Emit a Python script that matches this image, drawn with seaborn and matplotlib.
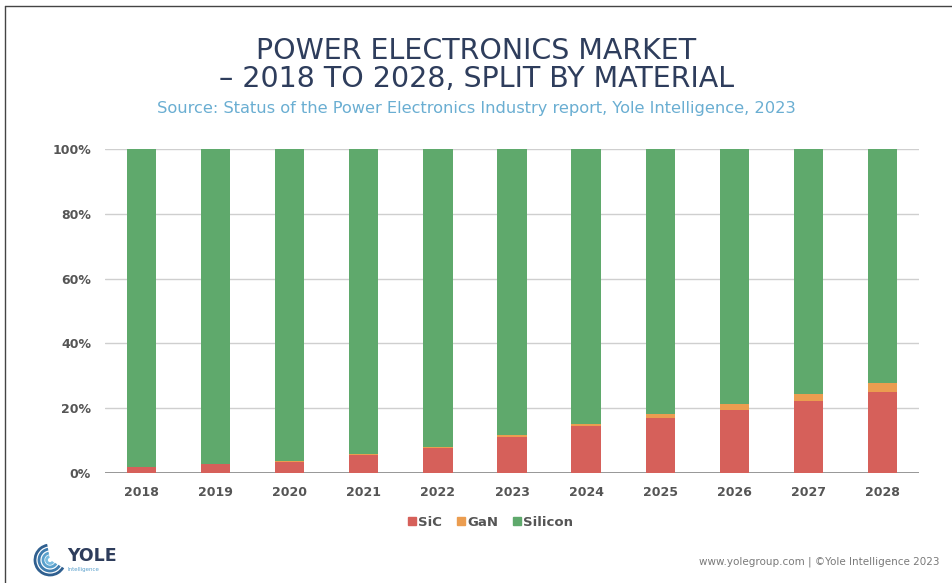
import matplotlib
matplotlib.use("Agg")
import matplotlib.pyplot as plt
from matplotlib.lines import Line2D
from matplotlib.patches import Arc
import pandas as pd
import seaborn as sns

# Market share by material (% of total), 2018-2028
years = ["2018", "2019", "2020", "2021", "2022", "2023", "2024", "2025", "2026", "2027", "2028"]
sic = [1.9, 2.7, 3.4, 5.6, 7.8, 11.1, 14.4, 17.1, 19.4, 22.2, 25.0]
gan = [0.1, 0.1, 0.2, 0.2, 0.3, 0.5, 0.6, 1.0, 1.8, 2.1, 2.9]
silicon = [round(100 - s - g, 1) for s, g in zip(sic, gan)]

y_ticks = [0, 20, 40, 60, 80, 100]
y_tick_labels = ["0%", "20%", "40%", "60%", "80%", "100%"]

COL_SIC = "#d6605a"
COL_GAN = "#eb9d50"
COL_SI = "#5fa96c"
TXT = "#555555"
NAVY = "#2e3d5c"
SUB = "#6aaed2"

sns.set_theme(style="white")
plt.rcParams["font.family"] = ["DejaVu Sans"]

df = pd.DataFrame({"year": years, "SiC": sic, "GaN": gan, "Silicon": silicon})
df["top_gan"] = df["SiC"] + df["GaN"]
df["top_si"] = df["top_gan"] + df["Silicon"]

fig = plt.figure(figsize=(9.53, 5.83), dpi=100)
ax = fig.add_axes([105 / 953, 1 - 473 / 583, 814 / 953, 324 / 583])

# Gridlines behind bars
for t in y_ticks:
    ax.axhline(t, color="#8f8f8f" if t == 0 else "#cfcfcf", lw=1.3 if t == 0 else 1.0, zorder=0)

# Stacked bars: draw cumulative tops, tallest first
for col, color in [("top_si", COL_SI), ("top_gan", COL_GAN), ("SiC", COL_SIC)]:
    sns.barplot(data=df, x="year", y=col, color=color, width=0.395,
                saturation=1, ax=ax, zorder=2, edgecolor="none")

ax.set_xlim(-0.49, 10.49)
ax.set_ylim(0, 100)
ax.set_yticks(y_ticks)
ax.set_yticklabels(y_tick_labels)
ax.set_xlabel("")
ax.set_ylabel("")
for s in ax.spines.values():
    s.set_visible(False)
ax.tick_params(axis="both", length=0, labelsize=9, labelcolor=TXT)
ax.tick_params(axis="y", pad=10)
ax.tick_params(axis="x", pad=9)
for lab in ax.get_xticklabels() + ax.get_yticklabels():
    lab.set_fontweight("bold")

# Titles
fig.text(0.5, 1 - 51 / 583, "POWER ELECTRONICS MARKET", ha="center", va="center",
         fontsize=20.5, color=NAVY)
fig.text(0.5, 1 - 79 / 583, "– 2018 TO 2028, SPLIT BY MATERIAL", ha="center", va="center",
         fontsize=20.5, color=NAVY)
fig.text(0.5, 1 - 108 / 583,
         "Source: Status of the Power Electronics Industry report, Yole Intelligence, 2023",
         ha="center", va="center", fontsize=11.7, color=SUB)

# Legend
handles = [Line2D([], [], marker="s", ls="none", markersize=6, color=c, label=l)
           for c, l in [(COL_SIC, "SiC"), (COL_GAN, "GaN"), (COL_SI, "Silicon")]]
leg = fig.legend(handles=handles, loc="center", bbox_to_anchor=(490 / 953, 1 - 522 / 583),
                 ncol=3, frameon=False, handletextpad=0.1, columnspacing=1.0,
                 handlelength=0.8, prop={"size": 9.5, "weight": "bold"})
for t in leg.get_texts():
    t.set_color(TXT)

# Footer
fig.text(940 / 953, 1 - 562 / 583, "www.yolegroup.com | ©Yole Intelligence 2023",
         ha="right", va="center", fontsize=7.5, color="#7a7a7a")

# Logo
lax = fig.add_axes([30 / 953, 1 - 578 / 583, 100 / 953, 36 / 583])
lax.set_xlim(0, 100)
lax.set_ylim(0, 36)
lax.axis("off")
for r, c in [(15, "#2f5f8f"), (11, "#3f7cae"), (7, "#5aa0cc"), (3.5, "#7cbde0")]:
    lax.add_patch(Arc((20, 18), 2 * r, 2 * r, theta1=100, theta2=330, color=c, lw=2))
lax.text(37, 22, "YOLE", fontsize=12.5, fontweight="bold", color=NAVY, va="center", ha="left")
lax.text(38, 8, "Intelligence", fontsize=4, color="#5aa0cc", va="center", ha="left")

# Frame lines
fig.add_artist(Line2D([5 / 953, 5 / 953], [0, 1 - 6 / 583], transform=fig.transFigure,
                      color="#444444", lw=1))
fig.add_artist(Line2D([5 / 953, 1], [1 - 6 / 583, 1 - 6 / 583], transform=fig.transFigure,
                      color="#444444", lw=1))

fig.savefig("out.png", dpi=100)
